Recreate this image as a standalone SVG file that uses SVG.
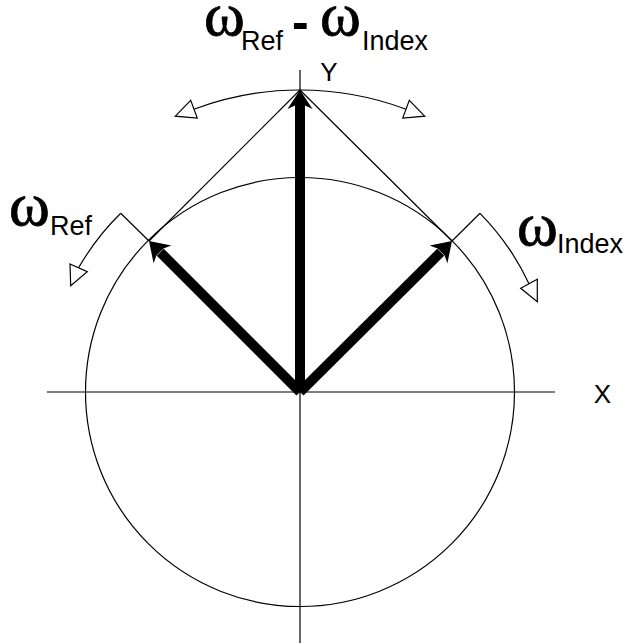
<svg xmlns="http://www.w3.org/2000/svg" width="630" height="643" viewBox="0 0 630 643">
<style>
.thin{fill:none;stroke:#000;stroke-width:1.2}
.open{fill:#fff;stroke:#000;stroke-width:1.2;stroke-linejoin:miter}
.shaft{stroke:#000;stroke-width:10;fill:none;stroke-linecap:butt}
.head{fill:#000;stroke:none}
.om{font-family:"Liberation Serif","Times New Roman",serif;font-size:62px;fill:#000;stroke:#000;stroke-width:0.8}
.sub{font-family:"Liberation Sans",Arial,sans-serif;font-size:27px;fill:#000}
.ax{font-family:"Liberation Sans",Arial,sans-serif;font-size:26px;fill:#000}
</style>
<defs>
<polygon id="ah" points="0,0 12.5,19 5,15.5 -5,15.5 -12.5,19"/>
</defs>
<rect width="630" height="643" fill="#fff"/>
<g id="axes">
<line class="thin" x1="47" y1="392" x2="555" y2="392"/>
<line class="thin" x1="300" y1="70" x2="300" y2="643"/>
<circle class="thin" cx="300" cy="392" r="214.5"/>
</g>
<g id="connectors">
<line class="thin" x1="300" y1="90" x2="149" y2="241"/>
<line class="thin" x1="300" y1="90" x2="452" y2="241"/>
<line class="thin" x1="149" y1="241" x2="120.7" y2="213.3"/>
<line class="thin" x1="452" y1="241" x2="480" y2="213.3"/>
<path class="thin" d="M120.7,213.3 A253.5,253.5 0 0 0 78.6,267.8"/>
<polygon class="open" points="70,264 87.3,271.7 70.7,285.7"/>
<path class="thin" d="M480,213.3 A253.5,253.5 0 0 1 529,283.8"/>
<polygon class="open" points="520.7,288.3 537.3,279.3 537.3,301.7"/>
<path class="thin" d="M194,109.2 A302,302 0 0 1 406,109.2"/>
<polygon class="open" points="402.7,118.1 409.3,100.3 424.7,116.2"/>
<polygon class="open" points="197.3,118.1 190.7,100.3 175.3,116.2"/>
<line class="shaft" x1="300" y1="392" x2="300" y2="105"/>
<line class="shaft" x1="300" y1="392" x2="160.3" y2="252.3"/>
<line class="shaft" x1="300" y1="392" x2="440.7" y2="252.3"/>
<use href="#ah" class="head" transform="translate(300,90)"/>
<use href="#ah" class="head" transform="translate(149,241) rotate(-45)"/>
<use href="#ah" class="head" transform="translate(452,241) rotate(45)"/>
</g>
<g id="label-top">
<text class="om" x="204" y="35">ω</text>
<text class="sub" x="241" y="50">Ref</text>
<text x="292" y="39" style="font-family:'Liberation Sans',Arial,sans-serif;font-size:50px;font-weight:bold">-</text>
<text class="om" x="320" y="35">ω</text>
<text class="sub" x="362" y="50">Index</text>
</g>
<g id="label-y"><text class="ax" x="329" y="81" text-anchor="middle">Y</text></g>
<g id="label-x"><text class="ax" x="602.5" y="403" text-anchor="middle">X</text></g>
<g id="label-ref">
<text class="om" x="9" y="225">ω</text>
<text class="sub" x="50" y="235">Ref</text>
</g>
<g id="label-index">
<text class="om" x="517" y="245">ω</text>
<text class="sub" x="557" y="253">Index</text>
</g>
</svg>
